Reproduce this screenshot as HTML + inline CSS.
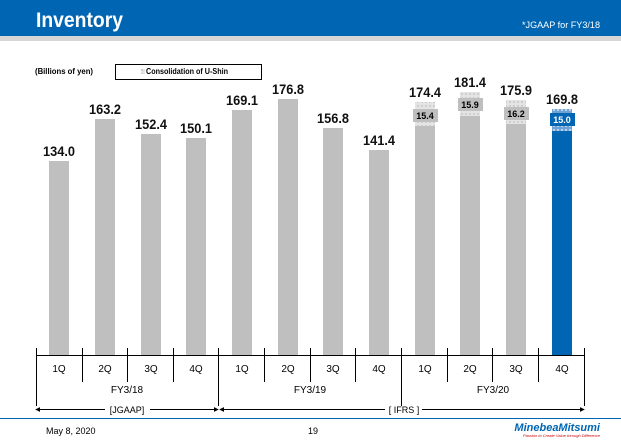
<!DOCTYPE html>
<html><head><meta charset="utf-8"><style>
body{margin:0;width:621px;height:438px;overflow:hidden;background:#fff;font-family:"Liberation Sans",Arial,sans-serif}
</style></head><body>
<svg width="621" height="438" xmlns="http://www.w3.org/2000/svg" font-family="Liberation Sans, Arial, sans-serif">
<defs>
<pattern id="h" width="4" height="4" patternUnits="userSpaceOnUse"><rect width="4" height="4" fill="#e4e4e4"/><circle cx="2" cy="2" r="1" fill="#c8c8c8"/></pattern>
<pattern id="hb" width="4" height="4" patternUnits="userSpaceOnUse"><rect width="4" height="4" fill="#6fa3d6"/><circle cx="2" cy="2" r="1" fill="#cfe1f3"/></pattern>
<marker id="a" viewBox="0 0 6 6" refX="5" refY="3" markerWidth="5" markerHeight="5" orient="auto"><path d="M0,0L6,3L0,6z" fill="#000"/></marker>
</defs>
<rect x="0" y="0" width="621" height="36" fill="#0066b3"/>
<rect x="0" y="36" width="621" height="5" fill="#d6d6d6"/>
<text x="36" y="27" font-size="21" font-weight="bold" fill="#fff" textLength="87" lengthAdjust="spacingAndGlyphs">Inventory</text>
<text x="600" y="28" font-size="9" fill="#fff" text-anchor="end" textLength="78" lengthAdjust="spacingAndGlyphs">*JGAAP for FY3/18</text>
<text x="35" y="74" font-size="8" font-weight="bold" textLength="58" lengthAdjust="spacingAndGlyphs">(Billions of yen)</text>
<rect x="115.5" y="64.5" width="146" height="15" fill="#fff" stroke="#000"/>
<rect x="141" y="69" width="4" height="5" fill="url(#h)"/>
<text x="146" y="74" font-size="8" font-weight="bold" textLength="82" lengthAdjust="spacingAndGlyphs">Consolidation of U-Shin</text>
<g font-size="14" font-weight="bold" text-anchor="middle" fill="#111">
<rect x="49" y="161" width="20" height="194" fill="#bfbfbf"/><text x="59" y="156" textLength="32" lengthAdjust="spacingAndGlyphs">134.0</text>
<rect x="95" y="119" width="20" height="236" fill="#bfbfbf"/><text x="105" y="114" textLength="32" lengthAdjust="spacingAndGlyphs">163.2</text>
<rect x="141" y="134" width="20" height="221" fill="#bfbfbf"/><text x="151" y="129" textLength="32" lengthAdjust="spacingAndGlyphs">152.4</text>
<rect x="186" y="138" width="20" height="217" fill="#bfbfbf"/><text x="196" y="133" textLength="32" lengthAdjust="spacingAndGlyphs">150.1</text>
<rect x="232" y="110" width="20" height="245" fill="#bfbfbf"/><text x="242" y="105" textLength="32" lengthAdjust="spacingAndGlyphs">169.1</text>
<rect x="278" y="99" width="20" height="256" fill="#bfbfbf"/><text x="288" y="94" textLength="32" lengthAdjust="spacingAndGlyphs">176.8</text>
<rect x="323" y="128" width="20" height="227" fill="#bfbfbf"/><text x="333" y="123" textLength="32" lengthAdjust="spacingAndGlyphs">156.8</text>
<rect x="369" y="150" width="20" height="205" fill="#bfbfbf"/><text x="379" y="145" textLength="32" lengthAdjust="spacingAndGlyphs">141.4</text>
<rect x="415" y="102" width="20" height="253" fill="#bfbfbf"/><rect x="415" y="102" width="20" height="24" fill="url(#h)"/><text x="425" y="97" textLength="32" lengthAdjust="spacingAndGlyphs">174.4</text>
<rect x="460" y="92" width="20" height="263" fill="#bfbfbf"/><rect x="460" y="92" width="20" height="24" fill="url(#h)"/><text x="470" y="87" textLength="32" lengthAdjust="spacingAndGlyphs">181.4</text>
<rect x="506" y="100" width="20" height="255" fill="#bfbfbf"/><rect x="506" y="100" width="20" height="24" fill="url(#h)"/><text x="516" y="95" textLength="32" lengthAdjust="spacingAndGlyphs">175.9</text>
<rect x="552" y="109" width="20" height="246" fill="#0066b3"/><rect x="552" y="109" width="20" height="22" fill="url(#hb)"/><text x="562" y="104" textLength="32" lengthAdjust="spacingAndGlyphs">169.8</text>
</g>
<g font-size="9" font-weight="bold" text-anchor="middle">
<rect x="413" y="109" width="25" height="13" fill="#bfbfbf"/><text x="425" y="119">15.4</text>
<rect x="458" y="98" width="25" height="13" fill="#bfbfbf"/><text x="470" y="108">15.9</text>
<rect x="504" y="107" width="25" height="13" fill="#bfbfbf"/><text x="516" y="117">16.2</text>
<rect x="550" y="113" width="25" height="13" fill="#0066b3"/><text x="562" y="123" fill="#fff">15.0</text>
</g>
<g stroke="#000" stroke-width="1">
<line x1="36" y1="355.5" x2="585" y2="355.5"/>
<line x1="36.5" y1="348" x2="36.5" y2="406"/><line x1="218.5" y1="348" x2="218.5" y2="406"/><line x1="401.5" y1="348" x2="401.5" y2="406"/><line x1="584.5" y1="348" x2="584.5" y2="406"/>
<line x1="82.5" y1="348" x2="82.5" y2="382"/><line x1="127.5" y1="348" x2="127.5" y2="382"/><line x1="173.5" y1="348" x2="173.5" y2="382"/>
<line x1="264.5" y1="348" x2="264.5" y2="382"/><line x1="310.5" y1="348" x2="310.5" y2="382"/><line x1="355.5" y1="348" x2="355.5" y2="382"/>
<line x1="447.5" y1="348" x2="447.5" y2="382"/><line x1="492.5" y1="348" x2="492.5" y2="382"/><line x1="538.5" y1="348" x2="538.5" y2="382"/>
<line x1="105" y1="409.5" x2="36" y2="409.5" marker-end="url(#a)"/><line x1="150" y1="409.5" x2="218" y2="409.5" marker-end="url(#a)"/>
<line x1="385" y1="409.5" x2="220" y2="409.5" marker-end="url(#a)"/><line x1="422" y1="409.5" x2="584" y2="409.5" marker-end="url(#a)"/>
</g>
<g font-size="10" text-anchor="middle">
<text x="59" y="372">1Q</text><text x="105" y="372">2Q</text><text x="151" y="372">3Q</text><text x="196" y="372">4Q</text>
<text x="242" y="372">1Q</text><text x="288" y="372">2Q</text><text x="333" y="372">3Q</text><text x="379" y="372">4Q</text>
<text x="425" y="372">1Q</text><text x="470" y="372">2Q</text><text x="516" y="372">3Q</text><text x="562" y="372">4Q</text>
<text x="127" y="393">FY3/18</text><text x="310" y="393">FY3/19</text><text x="493" y="393">FY3/20</text>
<text x="127" y="413" font-size="9">[JGAAP]</text><text x="404" y="413" font-size="9">[ IFRS ]</text>
</g>
<line x1="0" y1="418.5" x2="621" y2="418.5" stroke="#0066b3" stroke-width="1"/>
<text x="46" y="434" font-size="9">May 8, 2020</text>
<text x="313" y="434" font-size="9" text-anchor="middle">19</text>
<text x="600" y="431" font-size="11" font-weight="bold" font-style="italic" fill="#0066b3" text-anchor="end">MinebeaMitsumi</text>
<text x="600" y="437" font-size="4" font-style="italic" fill="#c00" text-anchor="end">Passion to Create Value through Difference</text>
</svg>
</body></html>
